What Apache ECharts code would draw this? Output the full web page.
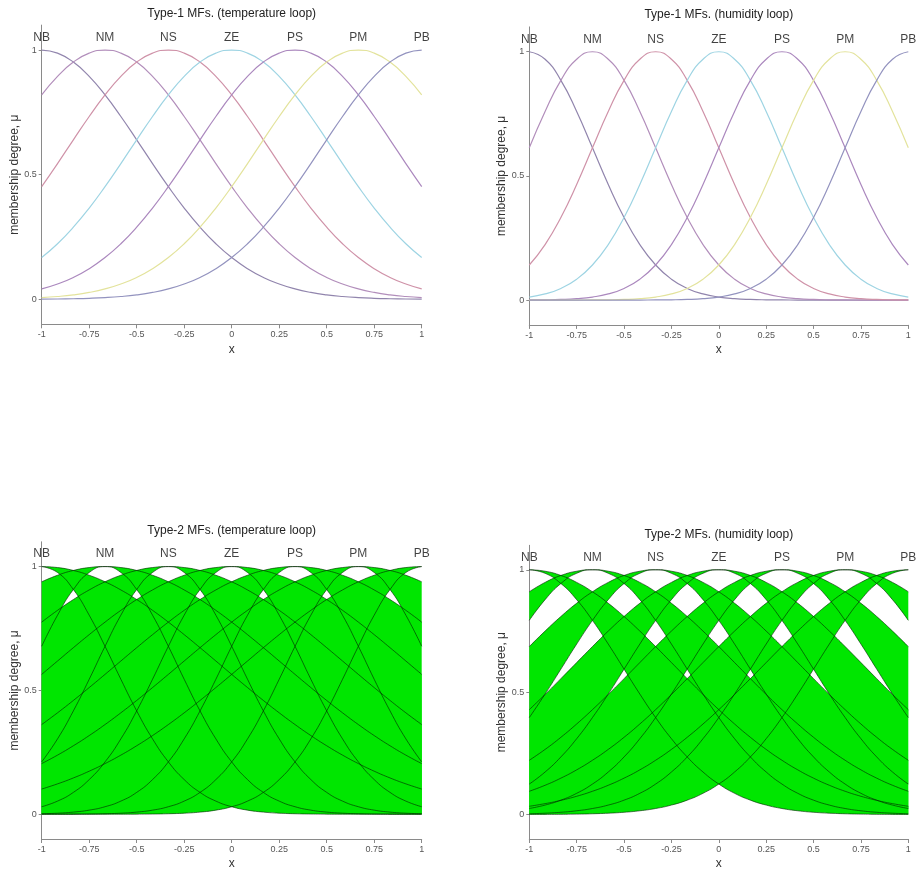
<!DOCTYPE html>
<html>
<head>
<meta charset="utf-8">
<script src="https://cdn.jsdelivr.net/npm/echarts@6/dist/echarts.min.js"></script>
<style>
html,body{margin:0;padding:0;background:#fff;}
#chart{width:921px;height:871px;}
</style>
</head>
<body>
<div id="chart"></div>
<script>
// ---- data ----
const xs = ['-1', '-0.9167', '-0.8333', '-0.75', '-0.6667', '-0.5833', '-0.5', '-0.4167', '-0.3333', '-0.25', '-0.1667', '-0.0833', '0',
            '0.0833', '0.1667', '0.25', '0.3333', '0.4167', '0.5', '0.5833', '0.6667', '0.75', '0.8333', '0.9167', '1'];
const mfNames = ['NB', 'NM', 'NS', 'ZE', 'PS', 'PM', 'PB'];
const mfCenterIdx = [0, 4, 8, 12, 16, 20, 24];
const xTicks = ['-1', '-0.75', '-0.5', '-0.25', '0', '0.25', '0.5', '0.75', '1'];
const yTicks = [0, 0.5, 1];
const mfLabelLevel = 1.05;

// membership value vs. distance from the MF centre (in grid steps of 1/12)
const t1Temp = [1, 0.9877, 0.9516, 0.8944, 0.8200, 0.7334, 0.6399, 0.5446, 0.4522, 0.3662, 0.2894, 0.2230, 0.1677,
                0.1230, 0.0880, 0.0614, 0.0418, 0.0278, 0.0180, 0.0114, 0.0070, 0.0042, 0.0025, 0.0014, 0.0008];
const t1Hum = [1, 0.9699, 0.8848, 0.7594, 0.6130, 0.4654, 0.3325, 0.2234, 0.1412, 0.0839, 0.0469, 0.0247, 0.0122,
               0.0057, 0.0025, 0.0010, 0.0004, 0.0001, 0, 0, 0, 0, 0, 0, 0];
const t2TempLower = [1, 0.9760, 0.9074, 0.8037, 0.6781, 0.5449, 0.4172, 0.3043, 0.2114, 0.1399, 0.0882, 0.0530, 0.0303,
                     0.0165, 0.0086, 0.0042, 0.0020, 0.0009, 0.0004, 0.0002, 0.0001, 0, 0, 0, 0];
const t2TempUpper = [1, 0.9960, 0.9843, 0.9649, 0.9385, 0.9056, 0.8669, 0.8233, 0.7757, 0.7251, 0.6725, 0.6187, 0.5647,
                     0.5114, 0.4594, 0.4095, 0.3621, 0.3176, 0.2765, 0.2387, 0.2045, 0.1738, 0.1465, 0.1226, 0.1017];
const t2HumLower = [1, 0.9856, 0.9438, 0.8779, 0.7933, 0.6965, 0.5941, 0.4922, 0.3962, 0.3098, 0.2353, 0.1737, 0.1245,
                    0.0867, 0.0587, 0.0386, 0.0246, 0.0153, 0.0092, 0.0054, 0.0031, 0.0017, 0.0009, 0.0005, 0.0002];
const t2HumUpper = [1, 0.9941, 0.9767, 0.9484, 0.9101, 0.8632, 0.8091, 0.7495, 0.6862, 0.6208, 0.5552, 0.4906, 0.4285,
                    0.3699, 0.3155, 0.2660, 0.2217, 0.1825, 0.1486, 0.1195, 0.0950, 0.0746, 0.0579, 0.0445, 0.0337];

const titles = ['Type-1 MFs. (temperature loop)', 'Type-1 MFs. (humidity loop)',
                'Type-2 MFs. (temperature loop)', 'Type-2 MFs. (humidity loop)'];

// ---- styles / layout ----
const t1Colors = ['#9185ad', '#b28ebb', '#cf92a8', '#9ed4e3', '#ab88be', '#e3e39c', '#9393bf'];
const fillGreen = '#00e600';
const t2Line = 'rgba(0,40,0,0.62)';
const FONT = 'Liberation Sans, Arial, sans-serif';
const grids = [
  {left: 41.7, top: 25.1, width: 380, height: 299.2},
  {left: 529.3, top: 26.9, width: 379, height: 298},
  {left: 41.7, top: 541.8, width: 380, height: 298.8},
  {left: 529.3, top: 545.3, width: 379, height: 296}
];
const titleY = [14, 15, 531, 535];

function mfData(profile, i) {
  return xs.map((x, j) => profile[Math.abs(j - mfCenterIdx[i])]);
}
function bandData(lower, upper, i) {
  return xs.map((x, j) => {
    const k = Math.abs(j - mfCenterIdx[i]);
    return upper[k] - lower[k];
  });
}
const showTick = (idx, val) => xTicks.indexOf(val) >= 0;

const xAxes = [], yAxes = [], series = [], graphics = [];
grids.forEach((g, gi) => {
  xAxes.push({
    type: 'category', gridIndex: gi, data: xs, boundaryGap: false,
    name: 'x', nameLocation: 'middle', nameGap: 19,
    nameTextStyle: {fontFamily: FONT, fontSize: 12, color: '#333'},
    axisLine: {show: true, onZero: false, lineStyle: {color: '#8a8a8a', width: 1}},
    axisTick: {show: true, length: 4, interval: showTick, lineStyle: {color: '#8a8a8a'}},
    axisLabel: {fontFamily: FONT, fontSize: 9, color: '#555', margin: 6, interval: showTick},
    splitLine: {show: false}
  });
  yAxes.push({
    type: 'value', gridIndex: gi, min: -0.1, max: 1.1,
    name: 'membership degree, \u03bc', nameLocation: 'middle', nameGap: 21,
    nameTextStyle: {fontFamily: FONT, fontSize: 12, color: '#333'},
    axisLine: {show: true, onZero: false, lineStyle: {color: '#8a8a8a', width: 1}},
    axisTick: {show: true, length: 3, customValues: yTicks, lineStyle: {color: '#8a8a8a'}},
    axisLabel: {fontFamily: FONT, fontSize: 9, color: '#555', margin: 5,
                customValues: yTicks, formatter: v => String(v)},
    splitLine: {show: false}
  });
  graphics.push({
    type: 'text', x: g.left + g.width / 2, y: titleY[gi],
    style: {text: titles[gi], font: '12px ' + FONT, fill: '#222', align: 'center', verticalAlign: 'middle'}
  });

  if (gi < 2) {
    const prof = gi === 0 ? t1Temp : t1Hum;
    mfNames.forEach((n, i) => {
      series.push({
        type: 'line', xAxisIndex: gi, yAxisIndex: gi, smooth: true, showSymbol: false,
        data: mfData(prof, i), lineStyle: {color: t1Colors[i], width: 1.2}, z: 3
      });
    });
  } else {
    const lo = gi === 2 ? t2TempLower : t2HumLower;
    const up = gi === 2 ? t2TempUpper : t2HumUpper;
    mfNames.forEach((n, i) => {
      const st = 'band' + gi + '_' + i;
      series.push({
        type: 'line', xAxisIndex: gi, yAxisIndex: gi, smooth: true, showSymbol: false, stack: st,
        data: mfData(lo, i), lineStyle: {width: 0, opacity: 0}, z: 2
      });
      series.push({
        type: 'line', xAxisIndex: gi, yAxisIndex: gi, smooth: true, showSymbol: false, stack: st,
        data: bandData(lo, up, i), lineStyle: {width: 0, opacity: 0},
        areaStyle: {color: fillGreen, opacity: 1}, z: 2
      });
    });
    mfNames.forEach((n, i) => {
      series.push({
        type: 'line', xAxisIndex: gi, yAxisIndex: gi, smooth: true, showSymbol: false,
        data: mfData(lo, i), lineStyle: {color: t2Line, width: 1}, z: 4
      });
      series.push({
        type: 'line', xAxisIndex: gi, yAxisIndex: gi, smooth: true, showSymbol: false,
        data: mfData(up, i), lineStyle: {color: t2Line, width: 1}, z: 4
      });
    });
  }
  // MF name labels
  series.push({
    type: 'scatter', xAxisIndex: gi, yAxisIndex: gi, symbolSize: 0, z: 5,
    data: mfCenterIdx.map((c, i) => [c, mfLabelLevel, mfNames[i]]),
    label: {show: true, position: 'inside', formatter: p => p.data[2],
            fontFamily: FONT, fontSize: 12, color: '#111'}
  });
});

const chart = echarts.init(document.getElementById('chart'), null, {renderer: 'canvas'});
chart.setOption({
  animation: false,
  backgroundColor: '#ffffff',
  grid: grids,
  xAxis: xAxes,
  yAxis: yAxes,
  series: series,
  graphic: graphics
});
</script>
</body>
</html>
